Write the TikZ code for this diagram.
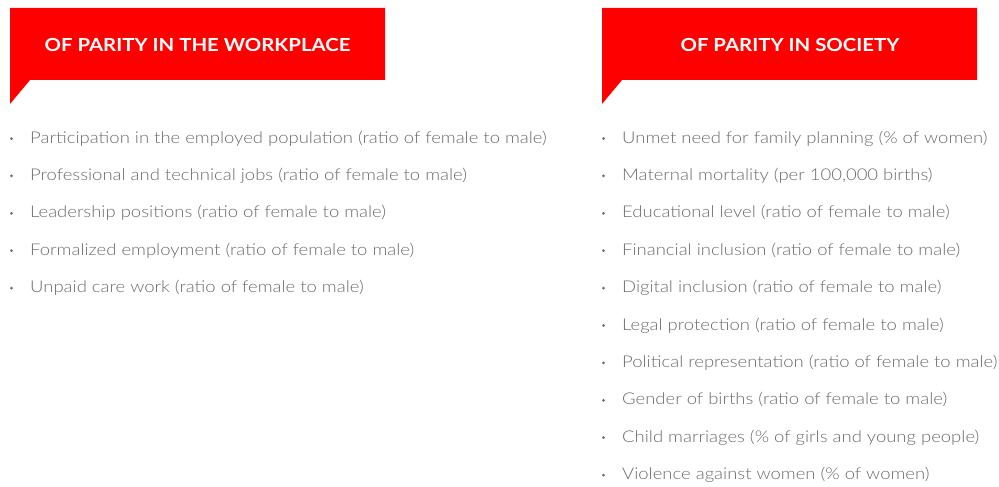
\documentclass[tikz,border=0pt]{standalone}
\usepackage{fontspec}
\setmainfont{Lato}
\newfontfamily\lightfont[FakeStretch=1.14]{Lato Light}
\newfontfamily\titlefont[FakeStretch=1.13]{Lato Bold}
\definecolor{bannerred}{HTML}{FF0000}
\definecolor{itemgray}{HTML}{6B6B6B}
\begin{document}
\begin{tikzpicture}[x=1pt,y=-1pt,
  banner/.style={fill=bannerred,draw=none},
  title/.style={text=white,font=\titlefont\fontsize{18}{22}\selectfont,anchor=center,inner sep=0pt},
  item/.style={text=itemgray,font=\lightfont\fontsize{16.2}{19}\selectfont,anchor=base west,inner sep=0pt},
  dotmark/.style={fill=itemgray,draw=none}]
\useasboundingbox (0,0) rectangle (999,487);
% left banner
\fill[banner] (10,8) -- (385,8) -- (385,80) -- (30,80) -- (10,104) -- cycle;
\node[title] (tl) at (197.5,44.5) {OF PARITY IN THE WORKPLACE};
% right banner
\fill[banner] (602,8) -- (977,8) -- (977,80) -- (622,80) -- (602,104) -- cycle;
\node[title] (tr) at (790,44.5) {OF PARITY IN SOCIETY};
% left list
\foreach \t [count=\i] in {
  {Participation in the employed population (ratio of female to male)},
  {Professional and technical jobs (ratio of female to male)},
  {Leadership positions (ratio of female to male)},
  {Formalized employment (ratio of female to male)},
  {Unpaid care work (ratio of female to male)}}{
  \pgfmathsetmacro{\yy}{143+(\i-1)*37.4}
  \fill[dotmark] (11.5,\yy-4.5) circle (1.5);
  \node[item] (l\i) at (30,\yy) {\t};
}
% right list
\foreach \t [count=\i] in {
  {Unmet need for family planning (\% of women)},
  {Maternal mortality (per 100,000 births)},
  {Educational level (ratio of female to male)},
  {Financial inclusion (ratio of female to male)},
  {Digital inclusion (ratio of female to male)},
  {Legal protection (ratio of female to male)},
  {Political representation (ratio of female to male)},
  {Gender of births (ratio of female to male)},
  {Child marriages (\% of girls and young people)},
  {Violence against women (\% of women)}}{
  \pgfmathsetmacro{\yy}{143+(\i-1)*37.4}
  \fill[dotmark] (603.5,\yy-4.5) circle (1.5);
  \node[item] (r\i) at (622,\yy) {\t};
}
\end{tikzpicture}
\end{document}
